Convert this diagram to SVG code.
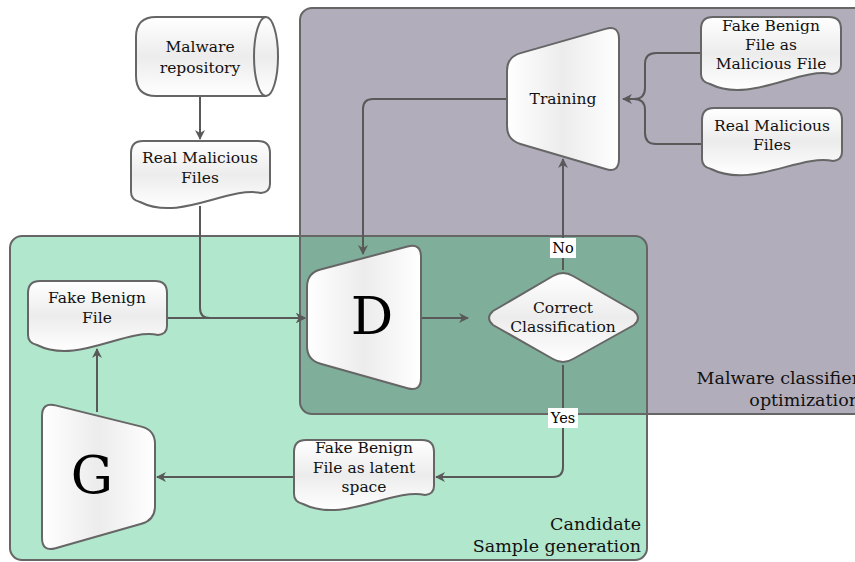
<svg xmlns="http://www.w3.org/2000/svg" width="855" height="562" viewBox="0 0 855 562">
<defs>
<linearGradient id="gv" x1="0" y1="0" x2="0" y2="1">
<stop offset="0" stop-color="#ffffff"/><stop offset="0.5" stop-color="#ececec"/><stop offset="1" stop-color="#ffffff"/>
</linearGradient>
<linearGradient id="gh" x1="0" y1="0" x2="1" y2="0">
<stop offset="0" stop-color="#ffffff"/><stop offset="0.5" stop-color="#ececec"/><stop offset="1" stop-color="#ffffff"/>
</linearGradient>
<marker id="arr" viewBox="0 0 10 10" refX="9" refY="5" markerWidth="10" markerHeight="10" markerUnits="userSpaceOnUse" orient="auto">
<path d="M0,0 L10,5 L0,10 L3,5 Z" fill="#595959"/>
</marker>
</defs>
<style>
.grp{stroke:#666;stroke-width:2}
.node{stroke:#666;stroke-width:2;stroke-linejoin:round}
.t{font-family:"DejaVu Serif","Liberation Serif",serif;font-size:15.5px;fill:#111;text-anchor:middle}
.big{font-family:"DejaVu Serif","Liberation Serif",serif;font-size:53px;fill:#000;text-anchor:middle}
.lbl{font-family:"DejaVu Serif","Liberation Serif",serif;font-size:17.5px;fill:#111;text-anchor:end}
.c{fill:none;stroke:#595959;stroke-width:2}
.yn{font-family:"DejaVu Serif","Liberation Serif",serif;font-size:14.5px;fill:#000;text-anchor:middle}
</style>

<g id="group-classifier">
<rect x="300" y="8" width="570" height="406" rx="12" fill="#b1adbb"/>
</g>
<g id="group-generation">
<rect x="10" y="236" width="637" height="324" rx="12" fill="#b1e7cd"/>
<path d="M300,236 H635 Q647,236 647,248 V414 H312 Q300,414 300,402 Z" fill="#7fae9b"/>
<rect x="300" y="8" width="570" height="406" rx="12" fill="none" class="grp"/>
<rect x="10" y="236" width="637" height="324" rx="12" fill="none" class="grp"/>
<text class="lbl" x="641" y="530">Candidate</text>
<text class="lbl" x="641" y="552">Sample generation</text>
<text class="lbl" x="860" y="384">Malware classifier</text>
<text class="lbl" x="860" y="406">optimization</text>
</g>

<g id="connectors">
<path class="c" d="M200,96 V139" marker-end="url(#arr)"/>
<path class="c" d="M200,206 V308 Q200,318 210,318 H305" marker-end="url(#arr)"/>
<path class="c" d="M167,318 H305" marker-end="url(#arr)"/>
<path class="c" d="M421,318 H468" marker-end="url(#arr)"/>
<path class="c" d="M563,270 V159" marker-end="url(#arr)"/>
<path class="c" d="M507,99 H373 Q363,99 363,109 V254" marker-end="url(#arr)"/>
<path class="c" d="M701,53 H656 Q645,53 645,64 V88 Q645,99 634,99 H623" marker-end="url(#arr)"/>
<path class="c" d="M702,144 H656 Q645,144 645,133 V110 Q645,99 634,99"/>
<path class="c" d="M563,365 V467 Q563,477 553,477 H436" marker-end="url(#arr)"/>
<path class="c" d="M294,477 H157" marker-end="url(#arr)"/>
<path class="c" d="M97,412 V349" marker-end="url(#arr)"/>
<rect x="550" y="238" width="26" height="20" fill="#fff"/>
<text class="yn" x="563" y="253">No</text>
<rect x="548" y="408" width="30" height="20" fill="#fff"/>
<text class="yn" x="563" y="423">Yes</text>
</g>

<g id="malware-repository">
<path class="node" fill="url(#gv)" d="M156,17 H266 A12,39.5 0 0 1 266,96 H156 Q136,96 136,76 V37 Q136,17 156,17 Z"/>
<path class="node" fill="none" d="M266,17 A12,39.5 0 0 0 266,96"/>
<text class="t" x="200" y="52">Malware</text>
<text class="t" x="200" y="73">repository</text>
</g>

<g id="real-malicious-files">
<path class="node" fill="url(#gv)" d="M143,141 H258 Q270,141 270,153 V184 Q270,192 261,193 C228,186 180,222 140,202 Q131,200 131,192 V153 Q131,141 143,141 Z"/>
<text class="t" x="200" y="163">Real Malicious</text>
<text class="t" x="200" y="183">Files</text>
</g>

<g id="fake-benign-file">
<path class="node" fill="url(#gv)" d="M40,281 H155 Q167,281 167,293 V326 Q167,334 158,335 C125,328 77,365 37,345 Q28,343 28,335 V293 Q28,281 40,281 Z"/>
<text class="t" x="97" y="303">Fake Benign</text>
<text class="t" x="97" y="323">File</text>
</g>

<g id="discriminator">
<path class="node" fill="url(#gh)" d="M307,287 Q307,273 320.5,269.5 L407.5,246.5 Q421,243 421,257 V378 Q421,392 407.5,388.2 L320.5,363.8 Q307,360 307,346 Z"/>
<text class="big" x="372" y="334">D</text>
</g>

<g id="correct-classification">
<path class="node" fill="url(#gv)" d="M493,311 L553,276 Q563,270 573,276 L634,311 Q642,318 634,325 L573,359 Q563,365 553,359 L493,325 Q485,318 493,311 Z"/>
<text class="t" x="563" y="313">Correct</text>
<text class="t" x="563" y="332">Classification</text>
</g>

<g id="training">
<path class="node" fill="url(#gh)" d="M507,71 Q507,57 520.5,53.15 L605.5,28.85 Q619,25 619,39 V159 Q619,173 605.6,169.04 L520.4,143.96 Q507,140 507,126 Z"/>
<text class="t" x="563" y="104">Training</text>
</g>

<g id="fake-benign-as-malicious">
<path class="node" fill="url(#gv)" d="M713,17 H829 Q841,17 841,29 V65 Q841,73 832,74 C799,67 750,104 710,84 Q701,82 701,74 V29 Q701,17 713,17 Z"/>
<text class="t" x="771" y="31">Fake Benign</text>
<text class="t" x="771" y="50">File as</text>
<text class="t" x="771" y="69">Malicious File</text>
</g>

<g id="real-malicious-files-2">
<path class="node" fill="url(#gv)" d="M714,108 H830 Q842,108 842,120 V152 Q842,160 833,161 C800,154 751,189 711,169 Q702,167 702,159 V120 Q702,108 714,108 Z"/>
<text class="t" x="772" y="131">Real Malicious</text>
<text class="t" x="772" y="150">Files</text>
</g>

<g id="fake-benign-latent">
<path class="node" fill="url(#gv)" d="M306,440 H422 Q434,440 434,452 V486 Q434,494 425,495 C392,488 343,524 303,504 Q294,502 294,494 V452 Q294,440 306,440 Z"/>
<text class="t" x="364" y="453">Fake Benign</text>
<text class="t" x="364" y="473">File as latent</text>
<text class="t" x="364" y="492">space</text>
</g>

<g id="generator">
<path class="node" fill="url(#gh)" d="M42,416 Q42,402 55.6,405.4 L141.4,426.6 Q155,430 155,444 V506 Q155,520 141.5,523.8 L55.5,548.2 Q42,552 42,538 Z"/>
<text class="big" x="92" y="493">G</text>
</g>
</svg>
